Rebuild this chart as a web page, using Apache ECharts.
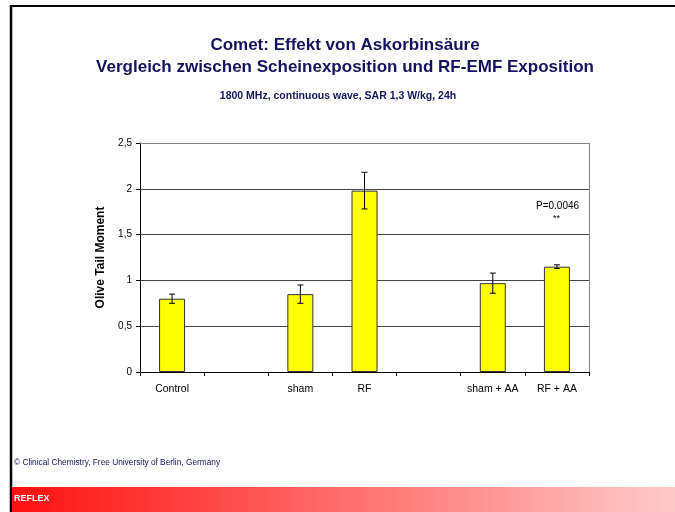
<!DOCTYPE html>
<html>
<head>
<meta charset="utf-8">
<script src="https://cdn.jsdelivr.net/npm/echarts@6/dist/echarts.min.js"></script>
<style>
  html, body { margin: 0; padding: 0; background: #fff; }
  #chart { width: 675px; height: 512px; }
</style>
</head>
<body>
<div id="chart"></div>
<script>
// categories (empty slots are gaps in the original chart)
var categories = ['Control', '', 'sham', 'RF', '', 'sham + AA', 'RF + AA'];
var meanValues = [0.80, '-', 0.85, 1.98, '-', 0.97, 1.15];
var errValues = [0.05, null, 0.10, 0.20, null, 0.11, 0.02];
var yTicks = [0, 0.5, 1, 1.5, 2, 2.5];

var navy = '#14145e';
var font = 'Liberation Sans, Arial, sans-serif';
var chart = echarts.init(document.getElementById('chart'));

// error bar data built from the arrays above
var errData = [];
meanValues.forEach(function (v, i) {
  if (v !== '-') errData.push([i, v - errValues[i], v + errValues[i]]);
});

var option = {
  animation: false,
  backgroundColor: '#fff',
  textStyle: { fontFamily: font },
  grid: { left: 140, top: 143, width: 449, height: 229 },
  xAxis: {
    type: 'category',
    data: categories,
    boundaryGap: true,
    axisLine: { lineStyle: { color: '#000', width: 1 } },
    axisTick: { show: true, interval: 0, length: 4, lineStyle: { color: '#000' } },
    axisLabel: { interval: 0, color: '#000', fontSize: 10.5, margin: 12 },
    splitLine: { show: false }
  },
  yAxis: {
    type: 'value',
    min: yTicks[0], max: yTicks[yTicks.length - 1], interval: 0.5,
    name: 'Olive Tail Moment',
    nameLocation: 'middle',
    nameGap: 33,
    nameTextStyle: { fontSize: 12, fontWeight: 'bold', color: '#000' },
    axisLine: { show: true, lineStyle: { color: '#000' } },
    axisTick: { show: true, length: 4, lineStyle: { color: '#000' } },
    axisLabel: {
      color: '#000', fontSize: 10, margin: 8,
      formatter: function (v) { return String(v).replace('.', ','); }
    },
    splitLine: { show: true, lineStyle: { color: '#444', width: 1 } }
  },
  series: [
    {
      type: 'bar',
      data: meanValues,
      barWidth: 26,
      itemStyle: { color: '#ffff00', borderColor: '#333', borderWidth: 1 },
      z: 3
    },
    {
      type: 'custom',
      data: errData,
      z: 5,
      renderItem: function (params, api) {
        var x = api.value(0);
        var lo = api.coord([x, api.value(1)]);
        var hi = api.coord([x, api.value(2)]);
        var hw = 3;
        var st = { stroke: '#000', lineWidth: 1 };
        return {
          type: 'group',
          children: [
            { type: 'line', shape: { x1: lo[0], y1: lo[1], x2: hi[0], y2: hi[1] }, style: st },
            { type: 'line', shape: { x1: lo[0] - hw, y1: lo[1], x2: lo[0] + hw, y2: lo[1] }, style: st },
            { type: 'line', shape: { x1: hi[0] - hw, y1: hi[1], x2: hi[0] + hw, y2: hi[1] }, style: st }
          ]
        };
      }
    }
  ],
  graphic: [
    // titles
    { type: 'text', x: 345, y: 37, style: { text: 'Comet: Effekt von Askorbinsäure', align: 'center', fontSize: 17, fontWeight: 'bold', fill: navy, fontFamily: font } },
    { type: 'text', x: 345, y: 59, style: { text: 'Vergleich zwischen Scheinexposition und RF-EMF Exposition', align: 'center', fontSize: 17, fontWeight: 'bold', fill: navy, fontFamily: font } },
    { type: 'text', x: 338, y: 91, style: { text: '1800 MHz, continuous wave, SAR 1,3 W/kg, 24h', align: 'center', fontSize: 10.5, fontWeight: 'bold', fill: navy, fontFamily: font } },
    // plot area frame (top and right)
    { type: 'line', shape: { x1: 140, y1: 143.5, x2: 589.5, y2: 143.5 }, style: { stroke: '#888', lineWidth: 1 }, z: 1 },
    { type: 'line', shape: { x1: 589.5, y1: 143, x2: 589.5, y2: 372 }, style: { stroke: '#888', lineWidth: 1 }, z: 1 },
    // slide frame
    { type: 'line', shape: { x1: 11, y1: 6, x2: 675, y2: 6 }, style: { stroke: '#000', lineWidth: 2 } },
    { type: 'line', shape: { x1: 11, y1: 5, x2: 11, y2: 512 }, style: { stroke: '#000', lineWidth: 2.5 } },
    // p-value annotation
    { type: 'text', left: 536, top: 201, style: { text: 'P=0.0046', fontSize: 10, fill: '#000', fontFamily: font } },
    { type: 'text', left: 553, top: 214, style: { text: '**', fontSize: 9, fill: '#000', fontFamily: font } },
    // footer
    { type: 'text', left: 14, top: 459, style: { text: '© Clinical Chemistry, Free University of Berlin, Germany', fontSize: 8.3, fill: navy, fontFamily: font } },
    {
      type: 'rect', shape: { x: 12, y: 487, width: 663, height: 25 },
      style: {
        fill: new echarts.graphic.LinearGradient(0, 0, 1, 0, [
          { offset: 0, color: '#ff1010' },
          { offset: 1, color: '#ffcaca' }
        ])
      }
    },
    { type: 'text', left: 14, top: 494, style: { text: 'REFLEX', fontSize: 9, fontWeight: 'bold', fill: '#fff', fontFamily: font } }
  ]
};

chart.setOption(option);
</script>
</body>
</html>
